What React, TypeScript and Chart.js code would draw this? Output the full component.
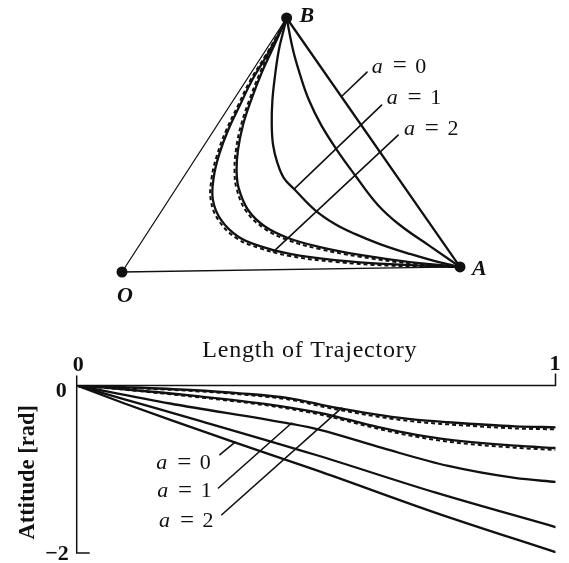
import { useEffect, useRef } from "react";
import { Chart, registerables } from "chart.js";

Chart.register(...registerables);

type Pt = [number, number];

const INK = "#111111";
const SERIF = '"Liberation Serif", "DejaVu Serif", serif';

// ---------- Upper panel: trajectories from B to A in the plane (O at the origin) ----------
const pointO: Pt = [0, 0];
const pointA: Pt = [1.0, 0.02];
const pointB: Pt = [0.487, 1.0];

const sideOB: Pt[] = [pointO, pointB];
const sideOA: Pt[] = [pointO, pointA];

// a = 0: straight path
const pathA0: Pt[] = [pointB, pointA];

const pathMid01: Pt[] = [
  pointB, [0.506, 0.874], [0.527, 0.776], [0.553, 0.677], [0.589, 0.579], [0.636, 0.48],
  [0.689, 0.382], [0.757, 0.264], [0.822, 0.185], [0.911, 0.102], pointA,
];

const pathA1: Pt[] = [
  pointB, [0.476, 0.941], [0.464, 0.874], [0.453, 0.776], [0.445, 0.677], [0.443, 0.579],
  [0.447, 0.5], [0.459, 0.433], [0.479, 0.37], [0.512, 0.323], [0.571, 0.244], [0.63, 0.189],
  [0.689, 0.15], [0.763, 0.11], [0.852, 0.071], [0.926, 0.043], pointA,
];

const pathMid12: Pt[] = [
  pointB, [0.467, 0.941], [0.444, 0.874], [0.414, 0.787], [0.382, 0.677], [0.358, 0.579],
  [0.343, 0.48], [0.339, 0.402], [0.345, 0.331], [0.373, 0.244], [0.423, 0.179], [0.491, 0.134],
  [0.586, 0.098], [0.704, 0.067], [0.852, 0.039], pointA,
];
const pathMid12Ref: Pt[] = [
  pointB, [0.464, 0.939], [0.439, 0.871], [0.408, 0.784], [0.376, 0.675], [0.352, 0.578],
  [0.337, 0.48], [0.333, 0.401], [0.339, 0.328], [0.368, 0.238], [0.42, 0.172], [0.49, 0.126],
  [0.586, 0.09], [0.704, 0.06], [0.852, 0.034], pointA,
];

const pathA2: Pt[] = [
  pointB, [0.462, 0.933], [0.429, 0.854], [0.385, 0.756], [0.349, 0.657], [0.314, 0.559],
  [0.287, 0.461], [0.271, 0.37], [0.269, 0.283], [0.293, 0.205], [0.343, 0.14], [0.408, 0.102],
  [0.497, 0.071], [0.63, 0.047], [0.793, 0.031], pointA,
];
const pathA2Ref: Pt[] = [
  pointB, [0.459, 0.931], [0.424, 0.851], [0.379, 0.753], [0.343, 0.655], [0.308, 0.558],
  [0.281, 0.46], [0.265, 0.369], [0.263, 0.28], [0.288, 0.199], [0.34, 0.132], [0.407, 0.094],
  [0.497, 0.063], [0.63, 0.04], [0.793, 0.025], pointA,
];

const planeLeaders: Pt[][] = [
  [[0.725, 0.787], [0.651, 0.693]],
  [[0.768, 0.657], [0.512, 0.33]],
  [[0.817, 0.539], [0.448, 0.08]],
];
const planeLabelAnchors: Pt[] = [[0.739, 0.808], [0.783, 0.684], [0.834, 0.562]];
const paramValues = ["0", "1", "2"];

// ---------- Lower panel: attitude along the normalised trajectory length ----------
const attA2: Pt[] = [
  [0, 0], [0.1, -0.02], [0.237, -0.054], [0.341, -0.093], [0.446, -0.153], [0.514, -0.233],
  [0.553, -0.275], [0.638, -0.356], [0.707, -0.408], [0.776, -0.439], [0.915, -0.487], [1.0, -0.499],
];
const attA2Ref: Pt[] = [
  [0, 0], [0.1, -0.026], [0.237, -0.064], [0.341, -0.106], [0.446, -0.17], [0.514, -0.253],
  [0.553, -0.297], [0.638, -0.38], [0.707, -0.432], [0.776, -0.464], [0.915, -0.512], [1.0, -0.524],
];
const attMid12: Pt[] = [
  [0, 0], [0.1, -0.045], [0.247, -0.125], [0.4, -0.225], [0.508, -0.328], [0.567, -0.408],
  [0.638, -0.507], [0.707, -0.587], [0.776, -0.647], [0.915, -0.719], [1.0, -0.746],
];
const attMid12Ref: Pt[] = [
  [0, 0], [0.1, -0.05], [0.247, -0.136], [0.4, -0.24], [0.508, -0.346], [0.567, -0.428],
  [0.638, -0.528], [0.707, -0.61], [0.776, -0.671], [0.915, -0.743], [1.0, -0.77],
];
const attA1: Pt[] = [
  [0, 0], [0.195, -0.215], [0.449, -0.46], [0.508, -0.53], [0.638, -0.746], [0.776, -0.961],
  [0.915, -1.104], [1.0, -1.152],
];
const attMid01: Pt[] = [[0, 0], [0.1, -0.165], [0.25, -0.41], [0.5, -0.83], [0.75, -1.28], [1.0, -1.69]];
const attA0: Pt[] = [[0, 0], [0.1, -0.215], [0.2, -0.42], [0.33, -0.68], [0.5, -1.01], [0.75, -1.52], [1.0, -1.99]];

const attLeaders: Pt[][] = [
  [[0.299, -0.826], [0.331, -0.675]],
  [[0.296, -1.224], [0.449, -0.448]],
  [[0.303, -1.543], [0.553, -0.269]],
];
const attLabelAnchors: Pt[] = [[0.166, -0.925], [0.168, -1.263], [0.172, -1.621]];

const xTickLabels = ["0", "1"];
const yTickLabels = ["0", "\u22122"];
const xTitle = "Length of Trajectory";
const yTitle = "Attitude [rad]";

// ---------- helpers ----------
const toXY = (pts: Pt[]) => pts.map(([x, y]) => ({ x, y }));

function stroke(pts: Pt[], width: number, extra: Record<string, unknown> = {}) {
  return {
    data: toXY(pts),
    showLine: true,
    borderColor: INK,
    backgroundColor: INK,
    borderWidth: width,
    pointRadius: 0,
    pointHoverRadius: 0,
    fill: false,
    tension: 0,
    borderCapStyle: "round",
    borderJoinStyle: "round",
    ...extra,
  };
}

function drawEquation(ctx: CanvasRenderingContext2D, left: number, cy: number, value: string) {
  ctx.textBaseline = "middle";
  ctx.textAlign = "left";
  ctx.font = `italic 22px ${SERIF}`;
  ctx.fillText("a", left, cy);
  ctx.textAlign = "center";
  ctx.font = `25px ${SERIF}`;
  ctx.fillText("=", left + 28, cy);
  ctx.font = `22px ${SERIF}`;
  ctx.fillText(value, left + 49, cy);
}

const planeText = {
  id: "planeText",
  afterDatasetsDraw(chart: any) {
    const { ctx, scales } = chart;
    const px = (v: number) => scales.x.getPixelForValue(v);
    const py = (v: number) => scales.y.getPixelForValue(v);
    ctx.save();
    ctx.fillStyle = INK;
    ctx.font = `italic bold 22px ${SERIF}`;
    ctx.textBaseline = "middle";
    ctx.textAlign = "left";
    ctx.fillText("B", px(pointB[0]) + 13, py(pointB[1]) - 2);
    ctx.fillText("A", px(pointA[0]) + 12, py(pointA[1]) + 2);
    ctx.textAlign = "center";
    ctx.fillText("O", px(pointO[0]) + 3, py(pointO[1]) + 24);
    planeLabelAnchors.forEach(([lx, ly], i) => drawEquation(ctx, px(lx), py(ly), paramValues[i]));
    ctx.restore();
  },
};

const attitudeFrame = {
  id: "attitudeFrame",
  beforeDatasetsDraw(chart: any) {
    const { ctx, scales } = chart;
    const x0 = scales.x.getPixelForValue(0);
    const x1 = scales.x.getPixelForValue(1);
    const yTop = scales.y.getPixelForValue(0);
    const yBot = scales.y.getPixelForValue(-2);
    ctx.save();
    ctx.strokeStyle = INK;
    ctx.lineWidth = 1.5;
    ctx.beginPath();
    ctx.moveTo(x0, yTop - 10);
    ctx.lineTo(x0, yBot);
    ctx.lineTo(x0 + 13, yBot);
    ctx.moveTo(x0, yTop);
    ctx.lineTo(x1, yTop);
    ctx.lineTo(x1, yTop - 12);
    ctx.stroke();

    ctx.fillStyle = INK;
    ctx.textBaseline = "alphabetic";
    ctx.font = `bold 22px ${SERIF}`;
    ctx.textAlign = "center";
    ctx.fillText(xTickLabels[0], x0 + 1.5, yTop - 14.5);
    ctx.fillText(xTickLabels[1], x1 - 0.5, yTop - 15.5);
    ctx.textAlign = "right";
    ctx.fillText(yTickLabels[0], x0 - 10, yTop + 11);
    ctx.fillText(yTickLabels[1], x0 - 8, yBot + 7);

    ctx.font = `24px ${SERIF}`;
    (ctx as any).letterSpacing = "0.8px";
    ctx.textAlign = "center";
    ctx.fillText(xTitle, scales.x.getPixelForValue(0.487), yTop - 28.5);
    (ctx as any).letterSpacing = "0px";

    ctx.save();
    ctx.translate(x0 - 49, (yTop + yBot) / 2 + 3);
    ctx.rotate(-Math.PI / 2);
    ctx.font = `bold 22.5px ${SERIF}`;
    ctx.textBaseline = "middle";
    ctx.fillText(yTitle, 0, 0);
    ctx.restore();
    ctx.restore();
  },
  afterDatasetsDraw(chart: any) {
    const { ctx, scales } = chart;
    ctx.save();
    ctx.fillStyle = INK;
    attLabelAnchors.forEach(([lx, ly], i) =>
      drawEquation(ctx, scales.x.getPixelForValue(lx), scales.y.getPixelForValue(ly), paramValues[i])
    );
    ctx.restore();
  },
};

const hiddenAxis = (min: number, max: number) => ({ type: "linear", min, max, display: false });

export default function App() {
  const planeRef = useRef<HTMLCanvasElement>(null);
  const attRef = useRef<HTMLCanvasElement>(null);

  useEffect(() => {
    if (!planeRef.current || !attRef.current) return;
    const curve = { tension: 0.4 };
    const dash = { borderDash: [4, 3], borderCapStyle: "butt" };

    const plane = new Chart(planeRef.current, {
      type: "scatter",
      data: {
        datasets: [
          stroke(sideOB, 1.3),
          stroke(sideOA, 1.3),
          stroke(pathA0, 2.3),
          stroke(pathMid01, 2.3, curve),
          stroke(pathA1, 2.3, curve),
          stroke(pathMid12Ref, 2, { ...curve, ...dash }),
          stroke(pathMid12, 2.3, curve),
          stroke(pathA2Ref, 2, { ...curve, ...dash }),
          stroke(pathA2, 2.3, curve),
          ...planeLeaders.map((l) => stroke(l, 1.6)),
          {
            data: toXY([pointO, pointA, pointB]),
            showLine: false,
            pointRadius: 5.5,
            pointHoverRadius: 5.5,
            pointBackgroundColor: INK,
            pointBorderColor: INK,
            pointBorderWidth: 0,
          },
        ] as any,
      },
      options: {
        responsive: false,
        animation: false,
        events: [],
        layout: { padding: 0, autoPadding: false },
        plugins: { legend: { display: false }, tooltip: { enabled: false } },
        scales: {
          x: hiddenAxis(-0.361, 1.3225),
          y: hiddenAxis(-0.189, 1.0709),
        } as any,
      },
      plugins: [planeText],
    });

    const mono = { cubicInterpolationMode: "monotone" };
    const attitude = new Chart(attRef.current, {
      type: "scatter",
      data: {
        datasets: [
          stroke(attA2Ref, 2, { ...mono, ...dash }),
          stroke(attA2, 2.3, mono),
          stroke(attMid12Ref, 2, { ...mono, ...dash }),
          stroke(attMid12, 2.3, mono),
          stroke(attA1, 2.3, mono),
          stroke(attMid01, 2.3, mono),
          stroke(attA0, 2.3, mono),
          ...attLeaders.map((l) => stroke(l, 1.6)),
        ] as any,
      },
      options: {
        responsive: false,
        animation: false,
        events: [],
        layout: { padding: { left: 76.7, right: 13.5, top: 55.5, bottom: 10 }, autoPadding: false },
        plugins: { legend: { display: false }, tooltip: { enabled: false } },
        scales: {
          x: hiddenAxis(0, 1),
          y: hiddenAxis(-2, 0),
        } as any,
      },
      plugins: [attitudeFrame],
    });

    return () => {
      plane.destroy();
      attitude.destroy();
    };
  }, []);

  return (
    <div style={{ position: "absolute", left: 0, top: 0, width: 569, height: 563, background: "#fff" }}>
      <canvas ref={planeRef} width={569} height={320} style={{ position: "absolute", left: 0, top: 0 }} />
      <canvas ref={attRef} width={569} height={233} style={{ position: "absolute", left: 0, top: 330 }} />
    </div>
  );
}
